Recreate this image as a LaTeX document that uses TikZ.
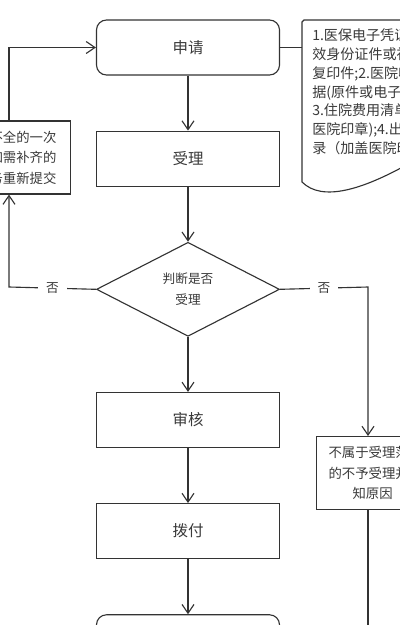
\documentclass[tikz,border=0pt]{standalone}
\usepackage{fontspec}
\setmainfont{Noto Sans CJK SC}
\usetikzlibrary{shapes.geometric,arrows.meta,positioning}
\definecolor{ink}{HTML}{333333}
\definecolor{txt}{HTML}{3a3a3a}

\begin{document}
\begin{tikzpicture}[x=0.025cm, y=-0.025cm,
    node distance=1.375cm,
    box/.style={rectangle, draw=ink, line width=0.8pt, text=txt,
                minimum width=4.575cm, minimum height=1.375cm, align=center,
                font=\fontsize{11pt}{13pt}\selectfont},
    roundbox/.style={box, rounded corners=0.25cm},
    decide/.style={diamond, draw=ink, line width=0.8pt, text=txt, inner sep=0pt,
                minimum width=4.575cm, minimum height=2.35cm, align=center,
                font=\fontsize{9pt}{15pt}\selectfont},
    sidebox/.style={rectangle, draw=ink, line width=0.8pt, text=txt, text width=3cm,
                minimum height=1.825cm, font=\fontsize{9.5pt}{14.5pt}\selectfont},
    doctext/.style={inner sep=0pt, text=txt, align=left,
                font=\fontsize{10pt}{13.4pt}\selectfont},
    arrow/.style={-{Straight Barb[length=2.2mm,width=3mm]}, line width=0.8pt, draw=ink},
    link/.style={line width=0.8pt, draw=ink},
    nolabel/.style={fill=white, inner xsep=0.2cm, text=txt,
                font=\fontsize{9pt}{11pt}\selectfont},
]
\fill[white] (0,0) rectangle (400,625);
\useasboundingbox (0,0) rectangle (400,625);
\clip (0,0) rectangle (400,625);

\node[roundbox] (apply) at (188,47.5) {申请};
\node[box,below=of apply] (accept) {受理};
\node[decide,below=of accept] (judge) {判断是否\\受理};
\node[box,below=of judge] (audit) {审核};
\node[box,below=of audit] (pay) {拨付};
\node[roundbox,below=of pay] (finish) {};

\node[sidebox,align=right,inner xsep=0.35cm,anchor=east] (redo) at (71,157.5)
    {不全的一次\\如需补齐的\\务重新提交};
\node[sidebox,align=left,inner xsep=0.3cm,anchor=north west] (reject) at (316,436)
    {不属于受理范\\的不予受理并\\\hspace*{1.8em}知原因};

\node[doctext,anchor=north west] (docs) at (312,28.5)
    {1.医保电子凭证\\效身份证件或社\\复印件;2.医院收\\据(原件或电子发\\3.住院费用清单\\医院印章);4.出\\录（加盖医院印};
\draw[link] (410,20) -- (304,20) -- (302,22) -- (302,182)
    .. controls (322,202) and (362,190) .. (410,163);

\coordinate (docL) at (302,47.5);
\coordinate (loopL) at (9,287);
\coordinate (loopR) at (368,287);
\coordinate (outR) at (368,640);

\draw[arrow] (apply) -- (accept);
\draw[arrow] (accept) -- (judge);
\draw[arrow] (judge) -- (audit);
\draw[arrow] (audit) -- (pay);
\draw[arrow] (pay) -- (finish);
\draw[link] (apply.east) -- (docL);
\draw[arrow] (judge.west) -- node[nolabel]{否} (loopL) -- (loopL |- redo.south);
\draw[arrow] (loopL |- redo.north) |- (apply.west);
\draw[arrow] (judge.east) -- node[nolabel]{否} (loopR) -- (loopR |- reject.north);
\draw[link] (loopR |- reject.south) -- (outR);

\end{tikzpicture}
\end{document}
